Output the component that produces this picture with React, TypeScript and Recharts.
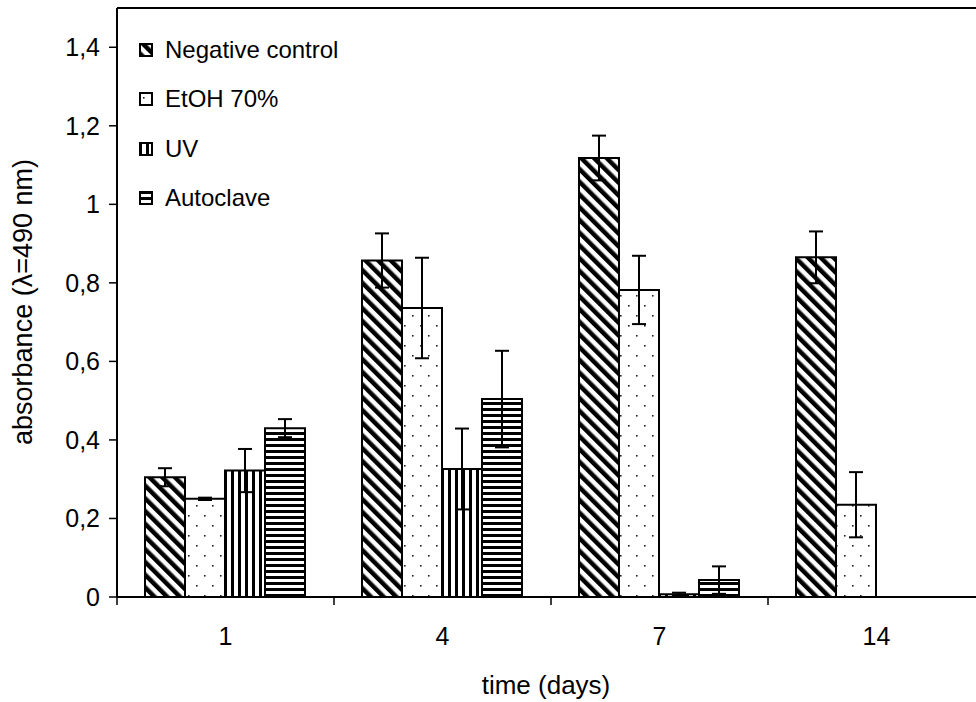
import React from 'react';
import { BarChart, Bar, XAxis, YAxis, ErrorBar, ReferenceLine } from 'recharts';

const days = ['1', '4', '7', '14'];
const negative = [0.305, 0.857, 1.118, 0.865];
const negativeErr = [0.023, 0.069, 0.057, 0.066];
const etoh = [0.25, 0.736, 0.782, 0.235];
const etohErr = [0.003, 0.128, 0.087, 0.083];
const uv = [0.322, 0.326, 0.007, null];
const uvErr = [0.055, 0.103, 0.004, null];
const autoclave = [0.43, 0.504, 0.043, null];
const autoclaveErr = [0.023, 0.123, 0.035, null];
const yTicks = [0, 0.2, 0.4, 0.6, 0.8, 1, 1.2, 1.4];

const series = [
  { key: 'neg', name: 'Negative control', fill: 'url(#negPat)' },
  { key: 'etoh', name: 'EtOH 70%', fill: 'url(#etohPat)' },
  { key: 'uv', name: 'UV', fill: 'url(#uvPat)' },
  { key: 'auto', name: 'Autoclave', fill: 'url(#autoPat)' },
];

const data = days.map((d, i) => ({
  day: d,
  neg: negative[i],
  negErr: negativeErr[i],
  etoh: etoh[i],
  etohErr: etohErr[i],
  uv: uv[i],
  uvErr: uvErr[i],
  auto: autoclave[i],
  autoErr: autoclaveErr[i],
}));

const FONT = '"Liberation Sans", Arial, sans-serif';
const CHART_W = 985;
const CHART_H = 702;
const Y_AXIS_W = 117;
const PLOT_BOTTOM = 597;
const BAND = (CHART_W - Y_AXIS_W) / days.length;

const fmt = (v: number) => (v === 0 ? '0' : v === 1 ? '1' : v.toFixed(1).replace('.', ','));

const XTick = (props: any) => {
  const { x, payload } = props;
  const bx = x - BAND / 2;
  return (
    <g>
      <line x1={bx} y1={PLOT_BOTTOM} x2={bx} y2={PLOT_BOTTOM + 8} stroke="#000" strokeWidth={1.5} />
      <text x={x} y={PLOT_BOTTOM + 48} textAnchor="middle" fontSize={25} fontFamily={FONT} fill="#000">
        {payload.value}
      </text>
    </g>
  );
};

const Patterns = () => (
  <defs>
    <pattern id="negPat" patternUnits="userSpaceOnUse" width={9} height={9} patternTransform="rotate(-45)">
      <rect width={9} height={9} fill="#fff" />
      <rect width={4.5} height={9} fill="#000" />
    </pattern>
    <pattern id="etohPat" patternUnits="userSpaceOnUse" width={16} height={20}>
      <rect width={16} height={20} fill="#fff" />
      <rect x={4} y={5} width={1.6} height={1.6} fill="#222" />
      <rect x={12} y={15} width={1.6} height={1.6} fill="#222" />
    </pattern>
    <pattern id="uvPat" patternUnits="userSpaceOnUse" width={7} height={7}>
      <rect width={7} height={7} fill="#fff" />
      <rect width={3} height={7} fill="#000" />
    </pattern>
    <pattern id="autoPat" patternUnits="userSpaceOnUse" width={6} height={6}>
      <rect width={6} height={6} fill="#fff" />
      <rect width={6} height={3} fill="#000" />
    </pattern>
  </defs>
);

const legendTops = [50, 99, 149, 198];

export default function App() {
  return (
    <div style={{ position: 'absolute', left: 0, top: 0, width: 976, height: 702, overflow: 'hidden', background: '#fff' }}>
      <BarChart
        width={CHART_W}
        height={CHART_H}
        data={data}
        margin={{ top: 8, right: 0, bottom: 0, left: 0 }}
        barCategoryGap={28}
        barGap={0}
      >
        <Patterns />
        <XAxis
          dataKey="day"
          height={CHART_H - PLOT_BOTTOM}
          axisLine={{ stroke: '#000', strokeWidth: 2 }}
          tickLine={false}
          tick={<XTick />}
          interval={0}
          label={{
            content: () => (
              <text x={546} y={694} textAnchor="middle" fontSize={26} fontFamily={FONT} fill="#000">
                time (days)
              </text>
            ),
          }}
        />
        <YAxis
          width={Y_AXIS_W}
          domain={[0, 1.5]}
          ticks={yTicks}
          tickFormatter={fmt}
          axisLine={{ stroke: '#000', strokeWidth: 2 }}
          tickLine={{ stroke: '#000', strokeWidth: 1.5 }}
          tickSize={8}
          tickMargin={9}
          tick={{ fontSize: 25, fontFamily: FONT, fill: '#000' }}
          label={{
            content: () => (
              <text
                x={32}
                y={302}
                transform="rotate(-90 32 302)"
                textAnchor="middle"
                fontSize={27}
                fontFamily={FONT}
                fill="#000"
              >
                absorbance (λ=490 nm)
              </text>
            ),
          }}
        />
        <ReferenceLine y={1.5} stroke="#000" strokeWidth={2} />
        {series.map((s) => (
          <Bar key={s.key} dataKey={s.key} name={s.name} fill={s.fill} stroke="#000" strokeWidth={2} isAnimationActive={false}>
            <ErrorBar dataKey={`${s.key}Err`} width={7} stroke="#000" strokeWidth={2} />
          </Bar>
        ))}
      </BarChart>
      {series.map((s, i) => (
        <div
          key={s.key}
          style={{
            position: 'absolute',
            left: 139,
            top: legendTops[i] - 15,
            height: 30,
            display: 'flex',
            alignItems: 'center',
            fontFamily: FONT,
            fontSize: 24,
            color: '#000',
          }}
        >
          <svg width={14} height={14} style={{ marginRight: 12 }}>
            <rect x={1} y={1} width={12} height={12} fill={s.fill} stroke="#000" strokeWidth={2} />
          </svg>
          <span>{s.name}</span>
        </div>
      ))}
    </div>
  );
}
